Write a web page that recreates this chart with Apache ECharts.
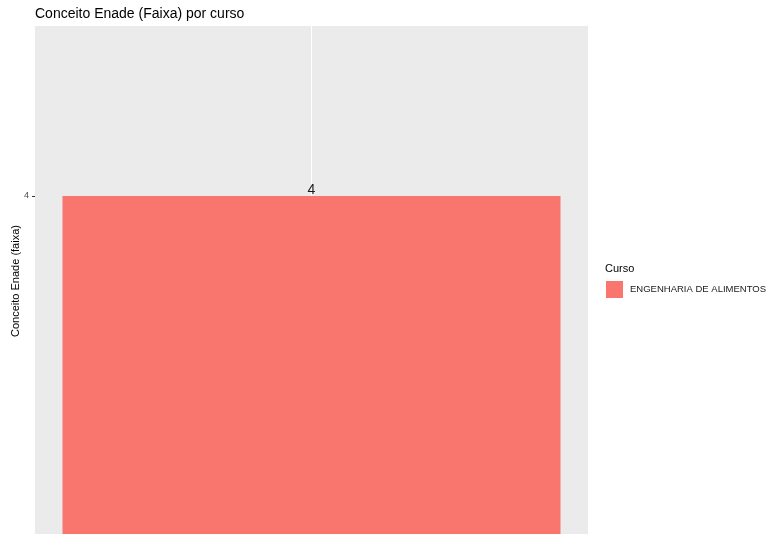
<!DOCTYPE html>
<html><head><meta charset="utf-8">
<script src="https://cdn.jsdelivr.net/npm/echarts@6/dist/echarts.min.js"></script>
<style>html,body{margin:0;padding:0;background:#fff}#c{width:771px;height:534px}</style>
</head><body><div id="c"></div>
<script>
const categories = ["ENGENHARIA DE ALIMENTOS"];
const values = [4];
const yTicks = [4];
const colors = ["#F8766D"];

const chart = echarts.init(document.getElementById('c'), null, {renderer:'canvas'});
const FONT = 'Liberation Sans, Arial, sans-serif';
chart.setOption({
  animation:false,
  textStyle:{fontFamily:FONT},
  title:[
    {text:'Conceito Enade (Faixa) por curso', left:30, top:2, textStyle:{fontSize:14, fontWeight:'normal', color:'#000', fontFamily:FONT}},
    {text:'Curso', left:600, top:258, textStyle:{fontSize:11, fontWeight:'normal', color:'#000', fontFamily:FONT}}
  ],
  legend:{
    left:601, top:276, orient:'vertical', itemWidth:17, itemHeight:17, itemGap:4,
    icon:'rect', data:categories,
    textStyle:{fontSize:9.5, color:'#1a1a1a', fontFamily:FONT, padding:[0,0,0,2]}
  },
  grid:{left:35, right:183, top:26, bottom:-2, show:true, backgroundColor:'#EBEBEB', borderWidth:0, containLabel:false, outerBoundsMode:'none'},
  xAxis:{
    type:'value', min:0.4, max:1.6, interval:0.6,
    axisLine:{show:false}, axisTick:{show:false}, axisLabel:{show:false},
    splitLine:{show:true, showMinLine:false, showMaxLine:false, lineStyle:{color:'#fff', width:1}}
  },
  yAxis:{
    type:'value', min:3.6, max:4.2, interval:0.4,
    name:'Conceito Enade (faixa)', nameLocation:'middle', nameGap:14, nameMoveOverlap:false,
    nameTextStyle:{fontSize:11, color:'#000', fontFamily:FONT},
    axisLine:{show:false},
    axisTick:{show:true, length:3, customValues:yTicks, lineStyle:{color:'#333'}},
    axisLabel:{fontSize:9, color:'#4d4d4d', margin:6, fontFamily:FONT, formatter:function(v){return yTicks.indexOf(Math.round(v*1000)/1000)>=0 ? String(v) : '';}},
    splitLine:{show:true, showMinLine:false, showMaxLine:false, lineStyle:{color:'#fff', width:1}}
  },
  series:[{
    type:'bar', name:categories[0], barWidth:498,
    data: values.map((v,i)=>[i+1, v]),
    itemStyle:{color:colors[0]},
    label:{show:true, position:'top', distance:-1, fontSize:14, color:'#1a1a1a', fontFamily:FONT}
  }]
});
</script></body></html>
